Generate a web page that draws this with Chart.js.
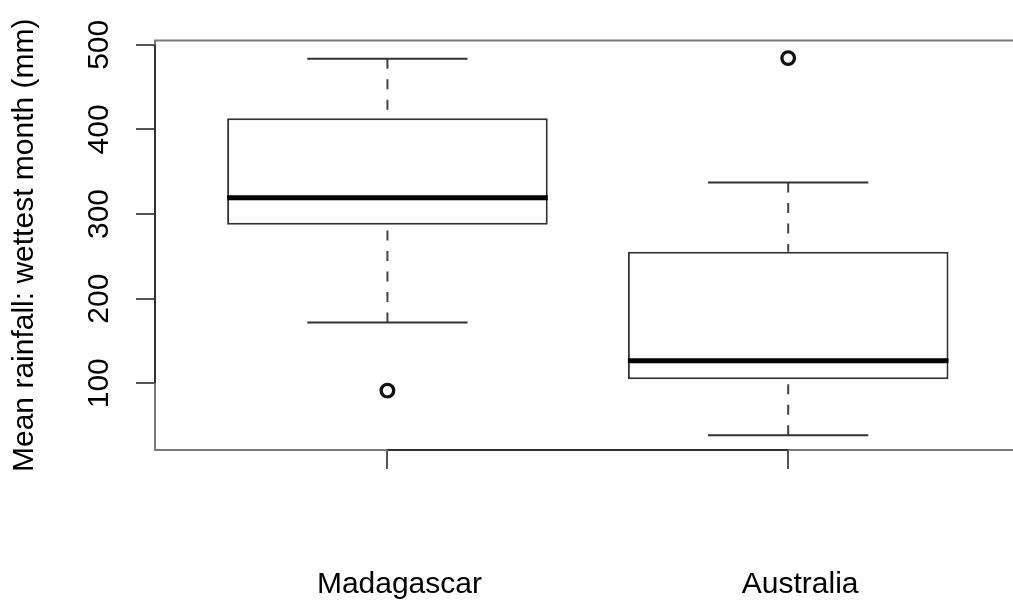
<!DOCTYPE html>
<html><head><meta charset="utf-8">
<script src="https://cdn.jsdelivr.net/npm/chart.js@4/dist/chart.umd.min.js"></script>
<style>html,body{margin:0;padding:0;background:#fff;overflow:hidden}</style>
</head><body>
<canvas id="c" width="1013" height="601"></canvas>
<script>
// ---- data ----
const categories = ['Madagascar', 'Australia'];
const lowerWhisker = [171.7, 38.5];
const q1 = [287.2, 104.7];
const median = [319.1, 126.7];
const q3 = [413.3, 255.3];
const upperWhisker = [483.4, 337.2];
const outliers = [[91.3], [484.3]];
const yTicks = [100, 200, 300, 400, 500];
const yTitle = 'Mean rainfall: wettest month (mm)';

// ---- styles ----
const FONT = {family: '"Liberation Sans", Arial, Helvetica, sans-serif', size: 30};
const LINE = '#333';

const boxData = categories.map((c, i) => ({x: i, y: [q1[i], q3[i]]}));
const outlierData = outliers.flatMap((arr, i) => arr.map(v => ({x: i, y: v})));

const boxParts = {
  id: 'boxParts',
  beforeDatasetsDraw(chart) {
    const {ctx, chartArea: a, scales: {x, y}} = chart;
    ctx.save();
    // frame (right edge lies outside the canvas)
    ctx.strokeStyle = '#7a7a7a';
    ctx.lineWidth = 2;
    ctx.beginPath();
    ctx.moveTo(a.right + 10, a.top);
    ctx.lineTo(a.left, a.top);
    ctx.lineTo(a.left, a.bottom);
    ctx.lineTo(a.right + 10, a.bottom);
    ctx.stroke();
    // axis lines spanning the ticks
    ctx.strokeStyle = '#333';
    ctx.beginPath();
    ctx.moveTo(a.left, y.getPixelForValue(yTicks[0]));
    ctx.lineTo(a.left, y.getPixelForValue(yTicks[yTicks.length - 1]));
    ctx.moveTo(x.getPixelForValue(0), a.bottom);
    ctx.lineTo(x.getPixelForValue(categories.length - 1), a.bottom);
    ctx.stroke();
    ctx.restore();
  },
  afterDatasetsDraw(chart) {
    const {ctx, scales: {x, y}} = chart;
    const bars = chart.getDatasetMeta(0).data;
    ctx.save();
    categories.forEach((c, i) => {
      const bar = bars[i];
      const cx = bar.x;
      const half = bar.width / 2;
      const capHalf = half / 2;
      const yUp = y.getPixelForValue(upperWhisker[i]);
      const yLo = y.getPixelForValue(lowerWhisker[i]);
      // dashed whiskers
      ctx.strokeStyle = '#444';
      ctx.lineWidth = 2;
      ctx.setLineDash([10, 10.5]);
      ctx.beginPath();
      ctx.moveTo(cx, yUp); ctx.lineTo(cx, y.getPixelForValue(q3[i]));
      ctx.stroke();
      ctx.beginPath();
      ctx.moveTo(cx, yLo); ctx.lineTo(cx, y.getPixelForValue(q1[i]));
      ctx.stroke();
      // caps
      ctx.setLineDash([]);
      ctx.strokeStyle = LINE;
      ctx.beginPath();
      ctx.moveTo(cx - capHalf, yUp); ctx.lineTo(cx + capHalf, yUp);
      ctx.moveTo(cx - capHalf, yLo); ctx.lineTo(cx + capHalf, yLo);
      ctx.stroke();
      // median
      const ym = y.getPixelForValue(median[i]);
      ctx.strokeStyle = '#000';
      ctx.lineWidth = 5;
      ctx.beginPath();
      ctx.moveTo(cx - half, ym); ctx.lineTo(cx + half, ym);
      ctx.stroke();
    });
    ctx.restore();
  }
};

new Chart(document.getElementById('c'), {
  type: 'bar',
  data: {
    datasets: [
      {
        type: 'bar', data: boxData, backgroundColor: '#fff', borderColor: LINE,
        borderWidth: 2, borderSkipped: false, categoryPercentage: 1, barPercentage: 0.8
      },
      {
        type: 'scatter', data: outlierData, pointStyle: 'circle', pointRadius: 6.3,
        pointBorderWidth: 3.3, pointBackgroundColor: '#fff', pointBorderColor: '#111', showLine: false
      }
    ]
  },
  options: {
    responsive: false,
    devicePixelRatio: 1,
    animation: false,
    layout: {autoPadding: false, padding: {top: 40.5, left: 0, right: 0, bottom: 0}},
    plugins: {legend: {display: false}, tooltip: {enabled: false}},
    scales: {
      x: {
        type: 'linear', min: -0.58, max: 1.561, offset: false,
        afterBuildTicks: s => { s.ticks = categories.map((c, i) => ({value: i})); },
        afterFit: s => { s.height = 151; s.paddingLeft = 0; s.paddingRight = 0; },
        grid: {offset: false, drawOnChartArea: false, drawTicks: true, tickLength: 19, color: '#555', lineWidth: 2},
        border: {display: false},
        ticks: {
          callback: v => categories[v], font: FONT, color: '#000', padding: 98,
          labelOffset: 12, minRotation: 0, maxRotation: 0, autoSkip: false
        }
      },
      y: {
        type: 'linear', min: 21.1, max: 505.1,
        afterBuildTicks: s => { s.ticks = yTicks.map(v => ({value: v})); },
        afterFit: s => { s.width = 155; s.paddingTop = 0; s.paddingBottom = 0; },
        grid: {drawOnChartArea: false, drawTicks: true, tickLength: 19, color: '#555', lineWidth: 2},
        border: {display: false},
        ticks: {font: FONT, color: '#000', padding: 11, minRotation: 90, maxRotation: 90, crossAlign: 'center'},
        title: {display: true, text: yTitle, font: FONT, color: '#000', padding: {top: 7, bottom: 0}}
      }
    }
  },
  plugins: [boxParts]
});
</script>
</body></html>
